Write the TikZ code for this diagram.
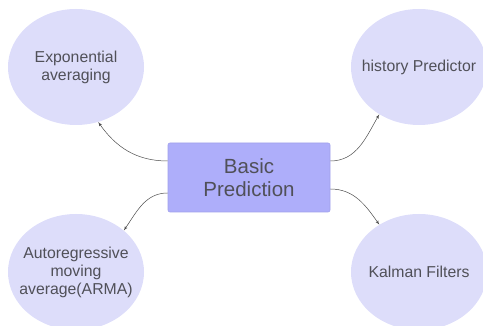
\documentclass[tikz,border=0pt]{standalone}
\usepackage{fontspec}
\setmainfont{Liberation Sans}
\usepackage{tikz}
\usetikzlibrary{%
	arrows,
	shapes,
	shapes.geometric,% wg. ellipse
	positioning,%
	calc
}
\definecolor{ellfill}{RGB}{221,221,250}
\definecolor{boxfill}{RGB}{174,174,250}
\definecolor{boxline}{RGB}{160,160,235}
\definecolor{txtgray}{RGB}{80,80,88}
\tikzstyle{method}=[ellipse, fill=ellfill, minimum width=136pt, minimum height=116pt, inner sep=-10pt, align=center, text=txtgray, font=\fontsize{15.8}{18}\selectfont]
\tikzstyle{basic}=[rectangle, rounded corners=2pt, fill=boxfill, draw=boxline, line width=0.6pt, minimum width=162pt, minimum height=69pt, align=center, text=txtgray, font=\fontsize{20.5}{23}\selectfont]
\tikzstyle{edge}=[draw, line width=0.5pt, draw=black!70, -latex']

\begin{document}
\begin{tikzpicture}[x=1pt,y=1pt]
	\clip (0,0) rectangle (483,326);
	\useasboundingbox (0,0) rectangle (483,326);

	% First we draw the centre box
	\node[basic] (basic) at (249,148.5) {Basic\\Prediction};

	% Then the prediction methods
	\foreach \pos/\name/\text in {
		{(76,259)/expavg/{Exponential\\averaging}},
		{(419,259)/histpred/{history Predictor}},
		{(76,54)/arma/{Autoregressive\\moving\\average(ARMA)}},
		{(419,54)/kalman/{Kalman Filters}}}
	\node[method] (\name) at \pos {\text};

	% Connect box with methods
	\path[edge] ([yshift=16.5pt]basic.west) to[out=180, in=-55] (expavg.-68);
	\path[edge] ([yshift=16.5pt]basic.east) to[out=0, in=-120] (histpred.-130);
	\path[edge] ([yshift=-15.5pt]basic.west) to[out=180, in=55] (arma.41);
	\path[edge] ([yshift=-11.5pt]basic.east) to[out=0, in=125] (kalman.130);

\end{tikzpicture}
\end{document}
